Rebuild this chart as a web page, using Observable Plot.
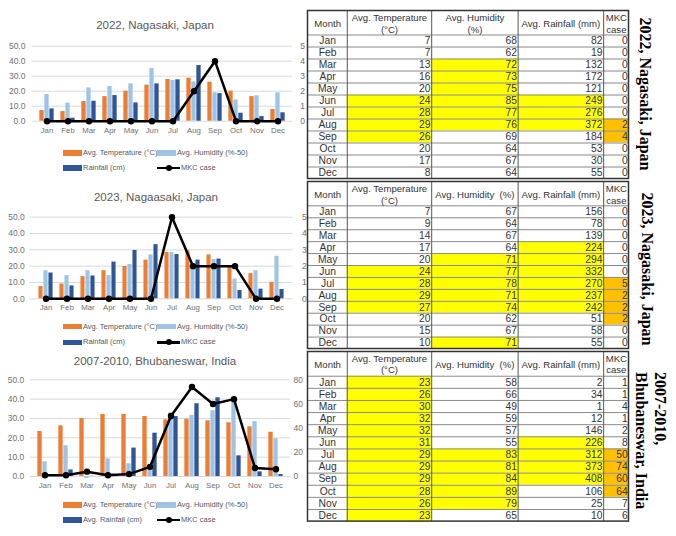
<!DOCTYPE html>
<html><head><meta charset="utf-8">
<script src="https://cdn.jsdelivr.net/npm/d3@7"></script>
<script src="https://cdn.jsdelivr.net/npm/@observablehq/plot@0.6"></script>
<style>
body{margin:0;background:#fff;}
#root{position:relative;width:676px;height:536px;overflow:hidden;background:#fff;font-family:"Liberation Sans",Arial,sans-serif;}
#root svg{position:absolute;overflow:visible;}
.ctitle{position:absolute;transform:translateX(-50%);white-space:nowrap;font-size:11.5px;color:#595959;}
.leg{position:absolute;font-size:7.5px;color:#595959;white-space:nowrap;line-height:10px;}
.sw{position:absolute;width:19px;height:5.5px;}
.rt{position:absolute;white-space:nowrap;font-family:"Liberation Serif","Times New Roman",serif;font-weight:bold;font-size:16px;color:#000;line-height:17px;}
</style></head><body><div id="root"></div>
<script>
// ---------- categories ----------
const months = ["Jan","Feb","Mar","Apr","May","Jun","Jul","Aug","Sep","Oct","Nov","Dec"];

// ---------- chart series ----------
// 2022, Nagasaki
const cTemp2022 = [7.1,6.4,13.1,16.4,20.0,24.0,27.8,28.7,26.0,20.0,16.4,7.8];
const cHum2022  = [17.8,12.0,22.2,23.1,24.9,35.1,27.1,26.2,18.9,14.2,16.9,18.9]; // humidity % - 50
const cRain2022 = [8.2,2.0,13.3,17.1,12.2,24.9,27.6,37.1,18.4,5.3,3.1,5.6];     // cm
const cMkc2022  = [0,0,0,0,0,0,0,2,4,0,0,0];
// 2023, Nagaasaki
const cTemp2023 = [7.5,9.1,13.6,17.2,19.8,23.7,28.3,29.4,26.9,19.6,15.4,10.1];
const cHum2023  = [17.2,14.2,17.2,14.2,21.0,26.9,28.3,20.9,24.1,12.1,17.2,26.1];
const cRain2023 = [15.8,7.9,14.0,22.5,29.6,33.2,27.1,23.7,24.3,5.1,5.9,5.7];
const cMkc2023  = [0,0,0,0,0,0,5,2,2,2,0,0];
// 2007-2010, Bhubaneswar
const cTempBhu = [23.3,26.2,30.0,32.1,32.1,31.0,29.3,29.6,28.8,27.8,25.7,22.9];
const cHumBhu  = [7.6,15.9,-1.0,9.1,6.6,5.0,32.9,31.6,34.0,39.3,28.4,19.5];
const cRainBhu = [0.2,3.4,0.1,1.2,14.7,22.4,31.0,37.6,40.7,10.7,2.4,1.0];
const cMkcBhu  = [1,1,4,1,2,8,50,74,60,64,7,6];

// ---------- axis tick labels ----------
const leftTicks = [0,10,20,30,40,50];
const rightTicksSmall = [0,1,2,3,4,5];
const rightTicksBhu = [0,20,40,60,80];

// ---------- table values ----------
const tTemp2022 = [7,7,13,16,20,24,28,29,26,20,17,8];
const tHum2022  = [68,62,72,73,75,85,77,76,69,64,67,64];
const tRain2022 = [82,19,132,172,121,249,276,372,184,53,30,55];
const tMkc2022  = [0,0,0,0,0,0,0,2,4,0,0,0];
const tTemp2023 = [7,9,14,17,20,24,28,29,27,20,15,10];
const tHum2023  = [67,64,67,64,71,77,78,71,74,62,67,71];
const tRain2023 = [156,78,139,224,294,332,270,237,242,51,58,55];
const tMkc2023  = [0,0,0,0,0,0,5,2,2,2,0,0];
const tTempBhu = [23,26,30,32,32,31,29,29,29,28,26,23];
const tHumBhu  = [58,66,49,59,57,55,83,81,84,89,79,65];
const tRainBhu = [2,34,1,12,146,226,312,373,408,106,25,10];
const tMkcBhu  = [1,1,4,1,2,8,50,74,60,64,7,6];

// highlighted cells (months)
const hiTemp2022 = ["Jun","Jul","Aug","Sep"];
const hiHum2022  = ["Mar","Apr","May","Jun","Jul","Aug"];
const hiRain2022 = ["Jun","Jul","Aug"];
const hiMkc2022  = ["Aug","Sep"];
const hiTemp2023 = ["Jun","Jul","Aug","Sep"];
const hiHum2023  = ["May","Jun","Jul","Aug","Sep","Dec"];
const hiRain2023 = ["Apr","May","Jun","Jul","Aug","Sep"];
const hiMkc2023  = ["Jul","Aug","Sep","Oct"];
const hiTempBhu = months.slice();
const hiHumBhu  = ["Jul","Aug","Sep","Oct","Nov"];
const hiRainBhu = ["Jun","Jul","Aug","Sep"];
const hiMkcBhu  = ["Jul","Aug","Sep","Oct"];

// ---------- texts ----------
const chartTitles = ["2022, Nagasaki, Japan","2023, Nagaasaki, Japan","2007-2010, Bhubaneswar, India"];
const legendTemp = "Avg. Temperature (°C)";
const legendHum = "Avg. Humidity (%-50)";
const legendRain = ["Rainfall (cm)","Rainfall (cm)","Avg. Rainfall (cm)"];
const legendMkc = "MKC case";
const headers1 = ["Month","Avg. Temperature\n(°C)","Avg. Humidity\n(%)","Avg. Rainfall (mm)","MKC\ncase"];
const headers2 = ["Month","Avg. Temperature\n(°C)","Avg. Humidity  (%)","Avg. Rainfall (mm)","MKC\ncase"];

// ---------- styles ----------
const ORANGE = "#ED7D31", LIGHT = "#9DC3E6", DARK = "#2F5597";
const YELLOW = "#FFFF00", GOLD = "#FFC000";
const root = document.getElementById("root");

function addEl(cls, css, html){
  const d = document.createElement("div");
  d.className = cls; Object.assign(d.style, css); if (html != null) d.innerHTML = html;
  root.appendChild(d); return d;
}

function drawChart(o){
  const rows = months.map((m,i)=>({month:m, temp:o.temp[i], hum:o.hum[i], rain:o.rain[i], mkc:o.mkc[i]}));
  const step = (o.W - o.ml - o.mr) / 12, bw = 5, off = (step - 3*bw)/2;
  const ins = i => ({insetLeft: off + i*bw, insetRight: step - off - (i+1)*bw});
  const k = o.k;
  const svg = Plot.plot({
    width:o.W, height:o.H, marginTop:o.mt, marginBottom:o.mb, marginLeft:o.ml, marginRight:o.mr,
    style:{fontFamily:"'Liberation Sans',Arial,sans-serif", fontSize:"8px", color:"#595959", background:"transparent"},
    x:{type:"band", domain:months, padding:0, label:null},
    y:{domain:[0,50], label:null},
    marks:[
      Plot.ruleY(leftTicks, {stroke:"#d9d9d9", strokeWidth:1}),
      Plot.barY(rows, {x:"month", y:"temp", fill:ORANGE, ...ins(0)}),
      Plot.barY(rows, {x:"month", y:"hum", fill:LIGHT, ...ins(1)}),
      Plot.barY(rows, {x:"month", y:"rain", fill:DARK, ...ins(2)}),
      Plot.line(rows, {x:"month", y:d=>d.mkc*k, stroke:"#000", strokeWidth:2.5}),
      Plot.dot(rows, {x:"month", y:d=>d.mkc*k, r:3.2, fill:"#000"}),
      Plot.axisX({tickSize:0, tickPadding:6, fontSize:7.8, fill:"#6f6f6f", label:null}),
      Plot.axisY(leftTicks, {tickSize:0, tickPadding:o.lpad, fontSize:8.5, fill:"#6f6f6f", tickFormat:d=>d.toFixed(1), label:null}),
      Plot.axisY(o.rticks.map(v=>v*k), {anchor:"right", tickSize:0, tickPadding:o.rpad, fontSize:8.5, fill:"#6f6f6f", textAnchor:"start", tickFormat:v=>String(Math.round(v/k)), label:null})
    ]
  });
  svg.style.left = o.left + "px"; svg.style.top = o.top + "px";
  root.appendChild(svg);
  addEl("ctitle", {left:o.tx+"px", top:(o.ty-7)+"px"}, o.title);
  // legend
  const r1 = o.leg1, r2 = o.leg2;
  addEl("sw", {left:"63px", top:(r1-2.75)+"px", background:ORANGE});
  addEl("leg", {left:"83px", top:(r1-5)+"px"}, legendTemp);
  addEl("sw", {left:"157px", top:(r1-2.75)+"px", background:LIGHT});
  addEl("leg", {left:"177px", top:(r1-5)+"px"}, legendHum);
  addEl("sw", {left:"63px", top:(r2-2.75)+"px", background:DARK});
  addEl("leg", {left:"83px", top:(r2-5)+"px"}, o.rainLabel);
  addEl("sw", {left:"157px", top:(r2-1.25)+"px", width:"23px", height:"2.5px", background:"#000"});
  addEl("sw", {left:"165.5px", top:(r2-3)+"px", width:"6px", height:"6px", borderRadius:"50%", background:"#000"});
  addEl("leg", {left:"181px", top:(r2-5)+"px"}, legendMkc);
}

// layout of table columns (x in table units)
const colEdges = [0, 39.2, 123.5, 209.8, 295.2, 320.5];

function drawTable(o){
  const cols = [o.temp, o.hum, o.rain, o.mkc];
  const his = [o.hiT, o.hiH, o.hiR, o.hiM];
  const hiColors = [YELLOW, YELLOW, YELLOW, GOLD];
  const cells = [];
  months.forEach((m,i)=>{
    cols.forEach((arr,c)=>{
      cells.push({m, i, c, v:arr[i], fill: his[c].includes(m) ? hiColors[c] : "#fff"});
    });
  });
  const hdr = o.headers.map((t,c)=>({t, c}));
  const svg = Plot.plot({
    width:324, height:o.H, marginTop:1.5, marginBottom:1.5, marginLeft:1.5, marginRight:1.5,
    style:{fontFamily:"'Liberation Sans',Arial,sans-serif", fontSize:"10px", color:"#222", background:"transparent"},
    x:{domain:[0,320.5], axis:null},
    y:{domain:[0,14], range:[1.5, o.H-1.5], axis:null},
    marks:[
      Plot.rect([0], {x1:0, x2:320.5, y1:0, y2:14, fill:"#fff"}),
      Plot.rect(cells, {x1:d=>colEdges[d.c+1], x2:d=>colEdges[d.c+2], y1:d=>d.i+2, y2:d=>d.i+3, fill:"fill"}),
      Plot.ruleY(d3.range(2,14), {x1:0, x2:320.5, stroke:"#8a8a8a", strokeWidth:1}),
      Plot.ruleX(colEdges.slice(1,-1), {y1:0, y2:14, stroke:"#555", strokeWidth:1}),
      Plot.rect([0], {x1:0, x2:320.5, y1:0, y2:14, fill:"none", stroke:"#333", strokeWidth:1.5}),
      Plot.text(hdr, {x:d=>(colEdges[d.c]+colEdges[d.c+1])/2, y:1+o.hdy, text:"t", fontSize:9.6, lineHeight:o.lh, fill:"#333"}),
      Plot.text(months, {x:(colEdges[0]+colEdges[1])/2, y:(d,i)=>i+2.5, text:d=>d, fontSize:10.3, fill:"#333"}),
      Plot.text(cells, {x:d=>colEdges[d.c+2]-1.2, y:d=>d.i+2.5, text:d=>String(d.v), textAnchor:"end", fontSize:10.3, fill:"#333"})
    ]
  });
  svg.style.left = "306px"; svg.style.top = (o.top-1.5) + "px";
  root.appendChild(svg);
}

// ---------- charts ----------
drawChart({left:0, top:0, W:310, H:140, mt:45.7, mb:19.3, ml:31.45, mr:310-291.85, lpad:6.5, rpad:8,
  temp:cTemp2022, hum:cHum2022, rain:cRain2022, mkc:cMkc2022, k:10, rticks:rightTicksSmall,
  title:chartTitles[0], tx:155, ty:26, leg1:153, leg2:168, rainLabel:legendRain[0]});
drawChart({left:0, top:180, W:310, H:130, mt:36.7, mb:130-118.3, ml:29.75, mr:310-292.6, lpad:5.5, rpad:9,
  temp:cTemp2023, hum:cHum2023, rain:cRain2023, mkc:cMkc2023, k:10, rticks:rightTicksSmall,
  title:chartTitles[1], tx:156, ty:198.3, leg1:326.7, leg2:342.3, rainLabel:legendRain[1]});
drawChart({left:0, top:350, W:310, H:140, mt:29.3, mb:140-126, ml:29.85, mr:310-290.1, lpad:6, rpad:3,
  temp:cTempBhu, hum:cHumBhu, rain:cRainBhu, mkc:cMkcBhu, k:50/80, rticks:rightTicksBhu,
  title:chartTitles[2], tx:155, ty:361.7, leg1:505, leg2:520, rainLabel:legendRain[2]});

// ---------- tables ----------
drawTable({top:10.7, H:171, headers:headers1, hdy:0, lh:1.3,
  temp:tTemp2022, hum:tHum2022, rain:tRain2022, mkc:tMkc2022, hiT:hiTemp2022, hiH:hiHum2022, hiR:hiRain2022, hiM:hiMkc2022});
drawTable({top:181.7, H:170, headers:headers2, hdy:0.05, lh:1.2,
  temp:tTemp2023, hum:tHum2023, rain:tRain2023, mkc:tMkc2023, hiT:hiTemp2023, hiH:hiHum2023, hiR:hiRain2023, hiM:hiMkc2023});
drawTable({top:351.7, H:172.6, headers:headers2, hdy:0, lh:1.15,
  temp:tTempBhu, hum:tHumBhu, rain:tRainBhu, mkc:tMkcBhu, hiT:hiTempBhu, hiH:hiHumBhu, hiR:hiRainBhu, hiM:hiMkcBhu});

// ---------- rotated table titles ----------
addEl("rt", {left:"645px", top:"94px", transform:"translate(-50%,-50%) rotate(90deg)"}, "2022, Nagasaki, Japan");
addEl("rt", {left:"646.5px", top:"268.5px", transform:"translate(-50%,-50%) rotate(90deg)"}, "2023, Nagasaki, Japan");
addEl("rt", {left:(660+8.5)+"px", top:"372px", transform:"rotate(90deg)", transformOrigin:"0 0"}, "2007-2010,");
addEl("rt", {left:(641.7+8.5)+"px", top:"372px", transform:"rotate(90deg)", transformOrigin:"0 0"}, "Bhubaneswar, India");
</script>
</body></html>
